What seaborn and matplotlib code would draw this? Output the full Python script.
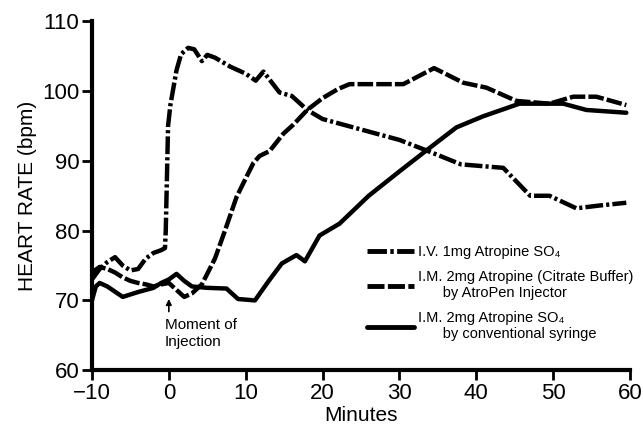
import numpy as np
import pandas as pd
import seaborn as sns
import matplotlib.pyplot as plt

# --- data ---
iv_min = [-10, -9, -8, -7, -6, -5, -4, -3, -2, -1, -0.5, -0.4, -0.3, -0.2, -0.1, 0.2, 0.6,
          1.0, 1.6, 2.5, 3.3, 4.3, 5.0, 6.0, 8.0, 10.0, 11.3, 12.3, 14.4, 16.0, 18.0, 20.0,
          25.0, 30.0, 33.5, 38.0, 43.5, 47.0, 49.5, 53.0, 56.0, 59.5]
iv_bpm = [73.0, 74.5, 75.5, 76.2, 75.0, 74.3, 74.5, 76.0, 76.8, 77.2, 77.5, 80.0, 85.0, 90.0,
          95.0, 98.0, 100.5, 103.0, 105.3, 106.2, 106.0, 104.3, 105.2, 104.8, 103.5, 102.5,
          101.5, 102.8, 99.8, 99.3, 97.3, 96.0, 94.5, 93.0, 91.5, 89.5, 89.0, 85.0, 85.0,
          83.2, 83.6, 84.0]

pen_min = [-10, -9, -8, -7, -6, -5, -4, -3, -2, -1, 0, 1, 2, 3, 4.3, 6, 7.3, 8.8, 10, 11,
           11.8, 13.1, 14.9, 16.2, 18, 20, 22, 23.5, 30.5, 34.5, 38.3, 41.3, 45.2, 49.5,
           52.6, 55.6, 59.5]
pen_bpm = [74.0, 74.8, 74.5, 74.0, 73.3, 72.8, 72.5, 72.3, 72.0, 72.3, 72.5, 71.5, 70.5,
           71.0, 72.3, 76.0, 80.0, 84.8, 87.5, 89.7, 90.7, 91.4, 93.9, 95.2, 97.3, 99.0,
           100.3, 101.0, 101.0, 103.3, 101.2, 100.5, 98.6, 98.2, 99.2, 99.2, 98.0]

syr_min = [-10, -9.5, -9, -8, -6, -4, -2, -1, 0, 1, 2, 3, 5, 7.5, 9, 11.2, 13, 14.7, 16.6,
           17.7, 19.6, 22.2, 26, 30, 33.5, 37.4, 40.9, 45.6, 51.3, 54.3, 59.5]
syr_bpm = [70.0, 72.0, 72.5, 72.0, 70.5, 71.2, 71.8, 72.5, 73.0, 73.8, 72.8, 72.0, 71.8,
           71.7, 70.2, 70.0, 72.8, 75.3, 76.5, 75.6, 79.3, 81.0, 85.0, 88.5, 91.5, 94.8,
           96.4, 98.2, 98.2, 97.3, 96.9]

labels = [
    "I.V. 1mg Atropine SO\u2084",
    "I.M. 2mg Atropine (Citrate Buffer)\n      by AtroPen Injector",
    "I.M. 2mg Atropine SO\u2084\n      by conventional syringe",
]

df = pd.concat([
    pd.DataFrame({"Minutes": iv_min, "bpm": iv_bpm, "series": labels[0]}),
    pd.DataFrame({"Minutes": pen_min, "bpm": pen_bpm, "series": labels[1]}),
    pd.DataFrame({"Minutes": syr_min, "bpm": syr_bpm, "series": labels[2]}),
], ignore_index=True)

# --- style ---
sns.set_style("ticks")
plt.rcParams["font.family"] = ["Liberation Sans", "DejaVu Sans"]
plt.rcParams["text.color"] = "black"
plt.rcParams["axes.labelcolor"] = "black"
plt.rcParams["xtick.color"] = "black"
plt.rcParams["ytick.color"] = "black"

fig = plt.figure(figsize=(6.43, 4.36), dpi=100)
ax = fig.add_axes([0.143, 0.151, 0.837, 0.8])

dashes = {
    labels[0]: (4, 0.7, 0.7, 0.7),
    labels[1]: (3.5, 0.7),
    labels[2]: "",
}
sns.lineplot(data=df, x="Minutes", y="bpm", hue="series", style="series",
             palette=["black"] * 3, dashes=dashes, sort=False, estimator=None,
             linewidth=3.2, ax=ax)

ax.set_xlim(-10, 60)
ax.set_ylim(60, 110)
ax.set_xticks(range(-10, 61, 10))
ax.set_yticks(range(60, 111, 10))
ax.set_xticklabels(["\u221210", "0", "10", "20", "30", "40", "50", "60"])
ax.tick_params(axis="both", labelsize=16, width=2, length=7, color="black", pad=2)
for side in ["left", "bottom"]:
    ax.spines[side].set_linewidth(3)
    ax.spines[side].set_color("black")
sns.despine(ax=ax)

ax.set_xlabel("Minutes", fontsize=15, labelpad=2)
ax.set_ylabel("HEART RATE (bpm)", fontsize=15, labelpad=4)

# arrow at moment of injection
ax.annotate("", xy=(0, 70.6), xytext=(0, 68.0),
            arrowprops=dict(arrowstyle="-|>", color="black", lw=1.2, mutation_scale=8))
ax.text(-0.5, 67.5, "Moment of\nInjection", fontsize=11, va="top", ha="left",
        linespacing=1.3)

leg = ax.legend(loc="upper left", bbox_to_anchor=(0.5, 0.375), frameon=False,
                handlelength=3.2, handletextpad=0.3, labelspacing=0.75, fontsize=10.5,
                borderaxespad=0)
for line in leg.get_lines():
    line.set_linewidth(3.5)

fig.savefig("out.png", dpi=100)
